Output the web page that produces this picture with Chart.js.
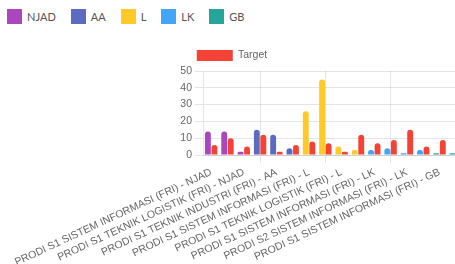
<!DOCTYPE html>
<html>
<head>
<meta charset="utf-8">
<script src="https://cdn.jsdelivr.net/npm/chart.js@4/dist/chart.umd.min.js"></script>
<style>
  html, body { margin: 0; padding: 0; background: #fff; overflow: hidden; width: 455px; height: 264px; }
  #legend { height: 40px; display: flex; align-items: center; padding-left: 7px; box-sizing: border-box; padding-bottom: 8px;
            font-family: Lato, "Open Sans", sans-serif; font-size: 11px; color: #555; }
  .item { display: flex; align-items: center; margin-right: 15px; }
  .sw { width: 15px; height: 15px; margin-right: 5px; }
  #wrap { width: 464px; height: 230px; }
</style>
</head>
<body>
<div id="legend"></div>
<div id="wrap"><canvas id="c" width="464" height="230"></canvas></div>
<script>
const categories = [
  "PRODI S1 SISTEM INFORMASI (FRI) - NJAD",
  "PRODI S1 TEKNIK INDUSTRI (FRI) - NJAD",
  "PRODI S1 TEKNIK LOGISTIK (FRI) - NJAD",
  "PRODI S1 SISTEM INFORMASI (FRI) - AA",
  "PRODI S1 TEKNIK INDUSTRI (FRI) - AA",
  "PRODI S1 TEKNIK LOGISTIK (FRI) - AA",
  "PRODI S1 SISTEM INFORMASI (FRI) - L",
  "PRODI S1 TEKNIK INDUSTRI (FRI) - L",
  "PRODI S1 TEKNIK LOGISTIK (FRI) - L",
  "PRODI S2 TEKNIK INDUSTRI (FRI) - L",
  "PRODI S1 SISTEM INFORMASI (FRI) - LK",
  "PRODI S1 TEKNIK INDUSTRI (FRI) - LK",
  "PRODI S2 SISTEM INFORMASI (FRI) - LK",
  "PRODI S1 TEKNIK LOGISTIK (FRI) - LK",
  "PRODI S1 SISTEM INFORMASI (FRI) - GB",
  "PRODI S1 TEKNIK INDUSTRI (FRI) - GB"
];
const seriesNames = ["NJAD", "AA", "L", "LK", "GB"];
const seriesColors = ["#ab47bc", "#5c6bc0", "#ffca28", "#42a5f5", "#26a69a"];
const njad = [14, 14, 2, null, null, null, null, null, null, null, null, null, null, null, null, null];
const aa   = [null, null, null, 15, 12, 4, null, null, null, null, null, null, null, null, null, null];
const l    = [null, null, null, null, null, null, 26, 45, 5, 3, null, null, null, null, null, null];
const lk   = [null, null, null, null, null, null, null, null, null, null, 3, 4, 1, 3, null, null];
const gb   = [null, null, null, null, null, null, null, null, null, null, null, null, null, null, 1, 1];
const target = [6, 10, 5, 12, 2, 6, 8, 7, 2, 12, 7, 9, 15, 5, 9, 5];
const targetColor = "#f44336";
const yTicks = [0, 10, 20, 30, 40, 50];

// HTML legend
const leg = document.getElementById('legend');
seriesNames.forEach((n, i) => {
  const it = document.createElement('div'); it.className = 'item';
  const sw = document.createElement('div'); sw.className = 'sw'; sw.style.background = seriesColors[i];
  const tx = document.createElement('span'); tx.textContent = n;
  it.appendChild(sw); it.appendChild(tx); leg.appendChild(it);
});

const seriesData = [njad, aa, l, lk, gb];
const datasets = seriesNames.map((n, i) => ({
  label: n, data: seriesData[i], backgroundColor: seriesColors[i], borderRadius: 3, borderSkipped: 'bottom'
}));
datasets.push({ label: "Target", data: target, backgroundColor: targetColor, borderRadius: 3, borderSkipped: 'bottom' });

Chart.defaults.font.family = "'Liberation Sans', Arial, sans-serif";
Chart.defaults.font.size = 10.5;
Chart.defaults.color = '#666';

new Chart(document.getElementById('c'), {
  type: 'bar',
  data: { labels: categories, datasets },
  options: {
    responsive: false,
    animation: false,
    skipNull: true,
    plugins: {
      legend: {
        position: 'top',
        labels: { boxWidth: 36, boxHeight: 11, filter: (item) => item.text === 'Target' }
      },
      tooltip: { enabled: false }
    },
    scales: {
      x: {
        ticks: { minRotation: 25, maxRotation: 25, autoSkip: true, autoSkipPadding: -10, maxTicksLimit: 8 }
      },
      y: {
        min: yTicks[0], max: yTicks[yTicks.length - 1],
        ticks: { stepSize: 10 },
        afterFit: (s) => { s.width = 203; }
      }
    }
  }
});
</script>
</body>
</html>
